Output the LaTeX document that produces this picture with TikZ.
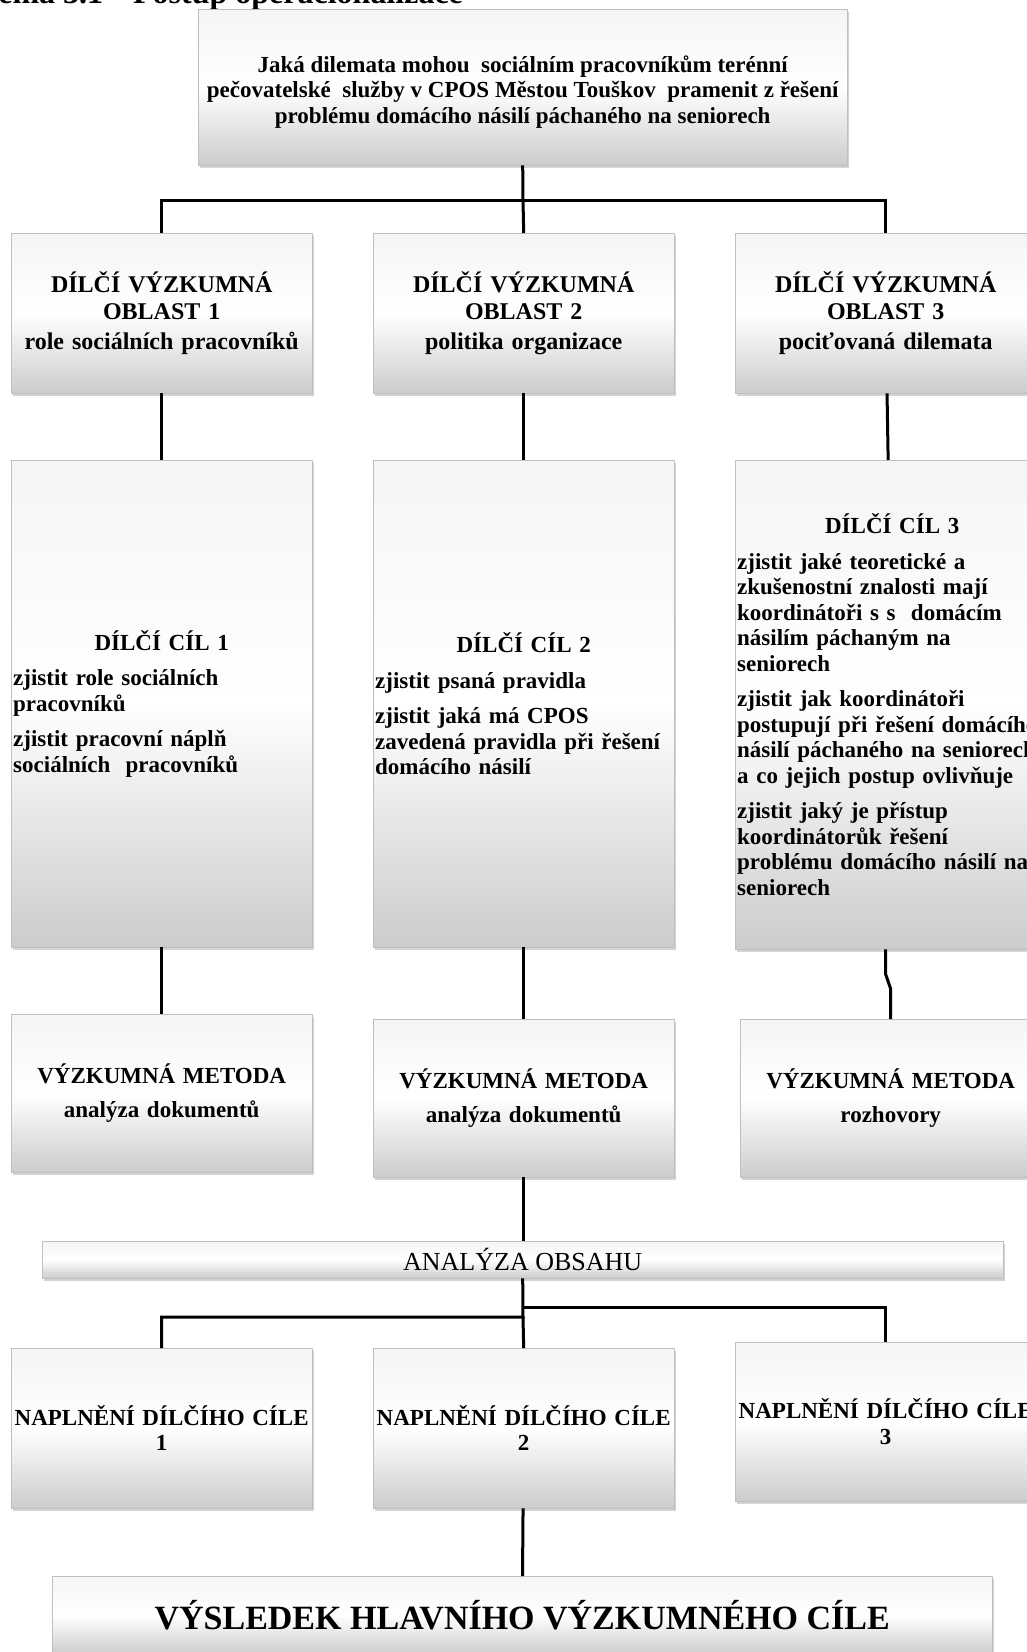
\documentclass[tikz,border=0pt]{standalone}
\usepackage{fontspec}
\setmainfont{Liberation Serif}
\usetikzlibrary{shadows}

\begin{document}
\begin{tikzpicture}[x=1pt,y=-1pt,
  box/.style={anchor=north west, draw=gray!50, thin,
    top color=gray!8, bottom color=gray!40, middle color=white,
    drop shadow={shadow xshift=1.5pt,shadow yshift=-2.5pt,opacity=.35},
    inner xsep=2pt, inner ysep=0pt,
    font=\fontsize{23}{25.5}\selectfont\bfseries},
  area/.style={box, text width=297pt, minimum height=160pt, align=center,
    font=\fontsize{24}{27}\selectfont\bfseries},
  goal/.style={box, text width=297pt, align=left},
  method/.style={box, text width=297pt, minimum height=158pt, align=center},
  fulfil/.style={box, text width=297pt, minimum height=160pt, align=center},
  conn/.style={line width=3pt}]
 \useasboundingbox (0,0) rectangle (1027,1652);

 \node[anchor=base west, font=\fontsize{32}{34}\selectfont\bfseries] (cap) at (-55,3)
   {Schéma 3.1\hspace{30pt}Postup operacionalizace};

 \node[box, minimum width=649pt, minimum height=156pt, align=center] (q) at (198,9)
   {\rule{0pt}{8pt}\\[-8pt]
    Jaká dilemata mohou~ sociálním pracovníkům terénní\\
    pečovatelské~ služby v CPOS Městou Touškov~ pramenit z řešení\\
    problému domácího násilí páchaného na seniorech};

 \node[area] (a1) at (11,233) {DÍLČÍ VÝZKUMNÁ\\OBLAST 1\\[3pt]role sociálních pracovníků};
 \node[area] (a2) at (373,233) {DÍLČÍ VÝZKUMNÁ\\OBLAST 2\\[3pt]politika organizace};
 \node[area] (a3) at (735,233) {DÍLČÍ VÝZKUMNÁ\\OBLAST 3\\[3pt]pociťovaná dilemata};

 \node[goal, minimum height=487pt] (c1) at (11,460)
   {{\centering DÍLČÍ CÍL 1\par}\vspace{10pt}
    zjistit role sociálních\\pracovníků\par\vspace{10pt}
    zjistit pracovní náplň\\sociálních~ pracovníků};
 \node[goal, minimum height=487pt] (c2) at (373,460)
   {{\centering DÍLČÍ CÍL 2\par}\vspace{10pt}
    zjistit psaná pravidla\par\vspace{10pt}
    zjistit jaká má CPOS\\zavedená pravidla při řešení\\domácího násilí};
 \node[goal, minimum height=489pt, text width=310pt] (c3) at (735,460)
   {{\centering\makebox[297pt]{DÍLČÍ CÍL 3}\par}\vspace{10pt}
    zjistit jaké teoretické a\\zkušenostní znalosti mají\\koordinátoři s s~ domácím\\násilím páchaným na\\seniorech\par\vspace{10pt}
    zjistit jak koordinátoři\\postupují při řešení domácího\\násilí páchaného na seniorech\\a co jejich postup ovlivňuje\par\vspace{10pt}
    zjistit jaký je přístup\\koordinátorůk řešení\\problému domácího násilí na\\seniorech};

 \node[method] (m1) at (11,1014) {VÝZKUMNÁ METODA\\[9pt]analýza dokumentů};
 \node[method] (m2) at (373,1019) {VÝZKUMNÁ METODA\\[9pt]analýza dokumentů};
 \node[method] (m3) at (740,1019) {VÝZKUMNÁ METODA\\[9pt]rozhovory};

 \node[box, minimum width=961pt, minimum height=37pt, align=center,
   font=\fontsize{26}{28}\selectfont] (an) at (42,1241) {ANALÝZA OBSAHU};

 \node[fulfil] (n1) at (11,1348) {NAPLNĚNÍ DÍLČÍHO CÍLE\\1};
 \node[fulfil] (n2) at (373,1348) {NAPLNĚNÍ DÍLČÍHO CÍLE\\2};
 \node[fulfil, minimum height=159pt] (n3) at (735,1342) {NAPLNĚNÍ DÍLČÍHO CÍLE\\3};

 \node[box, minimum width=940pt, minimum height=78pt, align=center,
   font=\fontsize{34}{36}\selectfont\bfseries] (res) at (52,1576)
   {VÝSLEDEK HLAVNÍHO VÝZKUMNÉHO CÍLE};

 \coordinate (t1) at (523,200);
 \coordinate (j2) at (523,1317);
 \coordinate (j3) at (523,1307);

 \draw[conn] (q.south) -- (t1);
 \draw[conn] (t1) -| (a1.north);
 \draw[conn] (t1) -- (a2.north);
 \draw[conn] (t1) -| (a3.north);
 \foreach \i in {1,2,3}
   \draw[conn] (a\i) -- (c\i);
 \foreach \i in {1,2}
   \draw[conn] (c\i.south) -- (c\i.south |- m\i.north);
 \draw[conn] (c3.south -| a3.south) -- ++(0,25) -- ([yshift=30pt]m3.north) -- (m3.north);
 \draw[conn] (m2.south) -- (m2.south |- an.north);
 \draw[conn] (an.south) -- (j2) -| (n1.north);
 \draw[conn] (j2) -- (n2.north);
 \draw[conn] (j3) -| (n3.north);
 \draw[conn] (n2) -- (res);
\end{tikzpicture}
\end{document}
